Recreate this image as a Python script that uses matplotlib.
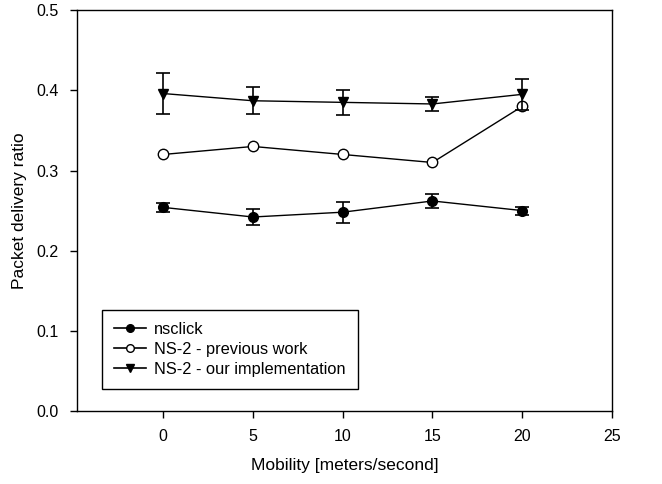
import matplotlib.pyplot as plt
from matplotlib.lines import Line2D

plt.rcParams['font.family'] = ['Liberation Sans', 'DejaVu Sans']

mobility = [0, 5, 10, 15, 20]

nsclick = [0.254, 0.242, 0.248, 0.262, 0.250]
nsclick_err = [0.006, 0.010, 0.013, 0.009, 0.005]

prev_work = [0.320, 0.330, 0.320, 0.310, 0.380]

our_impl = [0.396, 0.387, 0.385, 0.383, 0.395]
our_impl_err = [0.026, 0.017, 0.016, 0.009, 0.019]

labels = ['nsclick', 'NS-2 - previous work', 'NS-2 - our implementation']
x_ticks = [0, 5, 10, 15, 20, 25]
y_ticks = [0.0, 0.1, 0.2, 0.3, 0.4, 0.5]


def main():
    fig = plt.figure(figsize=(6.62, 4.84), dpi=100)
    ax = fig.add_axes([0.1163, 0.1508, 0.8082, 0.8282])

    ax.errorbar(mobility, nsclick, yerr=nsclick_err, color='k', marker='o', ms=7,
                lw=1, elinewidth=1.2, capsize=5, capthick=1.2)
    ax.plot(mobility, prev_work, color='k', marker='o', ms=7.5, mfc='white', lw=1)
    ax.errorbar(mobility, our_impl, yerr=our_impl_err, color='k', marker='v', ms=7.5,
                lw=1, elinewidth=1.2, capsize=5, capthick=1.2)

    ax.set_xlim(-4.8, 25)
    ax.set_ylim(0, 0.5)
    ax.set_xticks(x_ticks)
    ax.set_yticks(y_ticks)
    ax.set_yticklabels([f"{v:.1f}" for v in y_ticks])
    ax.tick_params(direction='out', length=5, width=1, labelsize=11.5, pad=8)
    for sp in ax.spines.values():
        sp.set_linewidth(1)

    ax.set_xlabel('Mobility [meters/second]', fontsize=12.5, labelpad=10)
    ax.set_ylabel('Packet delivery ratio', fontsize=12.5, labelpad=7)

    # 凡例はエラーバー無しのハンドルで
    handles = [
        Line2D([], [], color='k', marker='o', ms=5.5, lw=1.2),
        Line2D([], [], color='k', marker='o', ms=5.5, mfc='white', lw=1.2),
        Line2D([], [], color='k', marker='v', ms=6, lw=1.2),
    ]
    leg = ax.legend(handles, labels, loc='lower left', bbox_to_anchor=(0.047, 0.055),
                    borderaxespad=0, fontsize=11.8, fancybox=False, edgecolor='k',
                    framealpha=1, borderpad=0.75, handlelength=1.9, handletextpad=0.5,
                    labelspacing=0.3)
    leg.get_frame().set_linewidth(1)

    fig.savefig('out.png', dpi=100)


if __name__ == '__main__':
    main()
